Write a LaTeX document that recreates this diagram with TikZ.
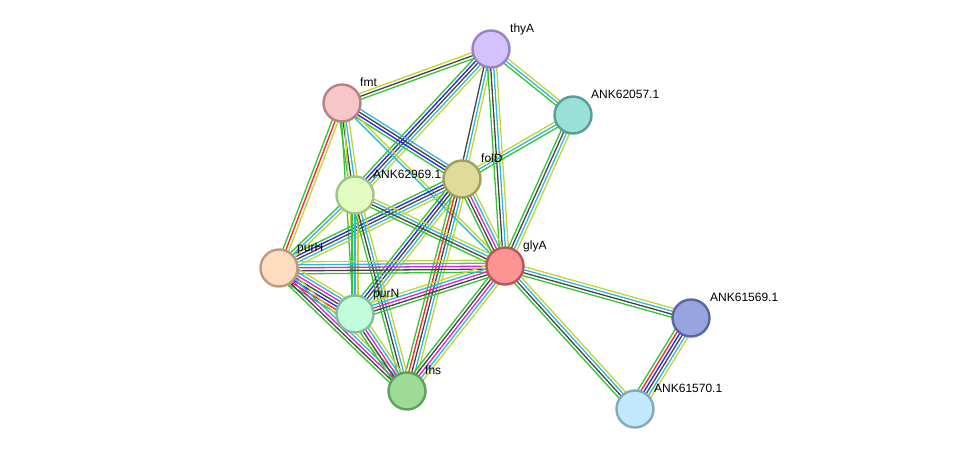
\documentclass[tikz,border=0pt]{standalone}
\usepackage{fontspec}
\setmainfont{Liberation Sans}
\usetikzlibrary{calc,backgrounds}
\definecolor{cN}{HTML}{33C433}
\definecolor{cF}{HTML}{FF2020}
\definecolor{cC}{HTML}{2020FF}
\definecolor{cX}{HTML}{444444}
\definecolor{cE}{HTML}{DD22DD}
\definecolor{cD}{HTML}{30B8DC}
\definecolor{cT}{HTML}{C4D432}
\newcommand\sedge[3]{%
  \foreach \cc [count=\ii] in {#3}{\xdef\nnn{\ii}}%
  \foreach \cc [count=\ii] in {#3}{%
    \pgfmathsetmacro\off{(\ii-(\nnn+1)/2)*3.0}%
    \draw[elin,\cc] ($(#1.center)!\off pt!90:(#2.center)$) -- ($(#2.center)!\off pt!-90:(#1.center)$);
  }}
\tikzset{
  prot/.style={circle,minimum size=37pt,inner sep=0pt,line width=2.4pt},
  lab/.style={anchor=base west,inner sep=0pt,font=\fontsize{12}{14}\selectfont},
  elin/.style={line width=1.3pt}
}
\begin{document}
\begin{tikzpicture}[x=1pt,y=-1pt]
\useasboundingbox (0,0) rectangle (975,455);
\node[prot,fill={rgb,255:red,212;green,194;blue,252},draw={rgb,255:red,150;green,130;blue,200}] (thyA) at (491,49) {};
\node[prot,fill={rgb,255:red,247;green,198;blue,198},draw={rgb,255:red,184;green,130;blue,130}] (fmt) at (342,103) {};
\node[prot,fill={rgb,255:red,154;green,224;blue,214},draw={rgb,255:red,88;green,158;blue,152}] (k57) at (573,115) {};
\node[prot,fill={rgb,255:red,222;green,220;blue,152},draw={rgb,255:red,160;green,158;blue,90}] (folD) at (462,179) {};
\node[prot,fill={rgb,255:red,226;green,252;blue,194},draw={rgb,255:red,166;green,192;blue,138}] (k69) at (355,195) {};
\node[prot,fill={rgb,255:red,253;green,220;blue,192},draw={rgb,255:red,188;green,156;blue,128}] (purH) at (279,268) {};
\node[prot,fill={rgb,255:red,252;green,148;blue,148},draw={rgb,255:red,188;green,86;blue,86}] (glyA) at (505,266) {};
\node[prot,fill={rgb,255:red,194;green,252;blue,218},draw={rgb,255:red,130;green,190;blue,154}] (purN) at (355,314) {};
\node[prot,fill={rgb,255:red,158;green,219;blue,150},draw={rgb,255:red,96;green,160;blue,90}] (fhs) at (407,391) {};
\node[prot,fill={rgb,255:red,152;green,164;blue,224},draw={rgb,255:red,90;green,102;blue,160}] (k1569) at (691,318) {};
\node[prot,fill={rgb,255:red,194;green,232;blue,252},draw={rgb,255:red,132;green,168;blue,190}] (k1570) at (635,409) {};

\node[lab] (lthyA) at (510,32) {thyA};
\node[lab] (lfmt) at (360,86) {fmt};
\node[lab] (lk57) at (591,98) {ANK62057.1};
\node[lab] (lfolD) at (481,162) {folD};
\node[lab] (lk69) at (373,178) {ANK62969.1};
\node[lab] (lpurH) at (297,251) {purH};
\node[lab] (lglyA) at (523,249) {glyA};
\node[lab] (lpurN) at (373,297) {purN};
\node[lab] (lfhs) at (425,374) {fhs};
\node[lab] (lk1569) at (710,301) {ANK61569.1};
\node[lab] (lk1570) at (654,392) {ANK61570.1};

\begin{pgfonlayer}{background}
\sedge{fmt}{thyA}{cN,cX,cT}
\sedge{thyA}{k57}{cN,cD,cT}
\sedge{thyA}{folD}{cX,cD,cT}
\sedge{thyA}{glyA}{cN,cX,cD,cT}
\sedge{thyA}{k69}{cN,cC,cX,cD,cT}
\sedge{fmt}{folD}{cN,cC,cX,cD}
\sedge{fmt}{glyA}{cD,cT}
\sedge{fmt}{k69}{cN,cX,cD,cT}
\sedge{fmt}{purN}{cN,cT}
\sedge{fmt}{purH}{cN,cF,cT}
\sedge{folD}{k57}{cN,cD,cT}
\sedge{k57}{glyA}{cN,cX,cD,cT}
\sedge{folD}{glyA}{cN,cX,cE,cD,cT}
\sedge{folD}{purH}{cN,cC,cX,cD,cT}
\sedge{folD}{purN}{cN,cC,cX,cD,cT}
\sedge{folD}{fhs}{cN,cF,cX,cD,cT}
\sedge{k69}{glyA}{cN,cX,cD,cT}
\sedge{k69}{purH}{cN,cD,cT}
\sedge{k69}{purN}{cN,cD,cT}
\sedge{k69}{fhs}{cN,cX,cD,cT}
\sedge{purH}{glyA}{cN,cX,cE,cD,cT}
\sedge{purH}{purN}{cN,cF,cC,cX,cE,cD,cT}
\sedge{purH}{fhs}{cN,cX,cE,cD,cT}
\sedge{purN}{glyA}{cN,cX,cE,cD,cT}
\sedge{purN}{fhs}{cN,cX,cE,cD,cT}
\sedge{glyA}{fhs}{cN,cX,cE,cD,cT}
\sedge{glyA}{k1569}{cN,cX,cD,cT}
\sedge{glyA}{k1570}{cN,cX,cD,cT}
\sedge{k1569}{k1570}{cN,cF,cC,cX,cD,cT}
\end{pgfonlayer}
\end{tikzpicture}
\end{document}
